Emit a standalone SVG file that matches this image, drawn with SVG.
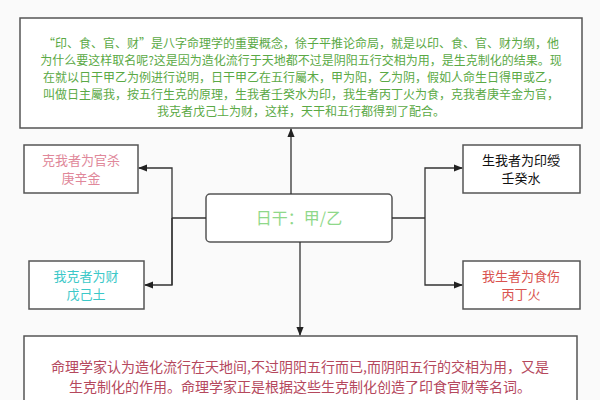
<svg xmlns="http://www.w3.org/2000/svg" width="600" height="400" viewBox="0 0 600 400">
<defs>
<style>
.box{fill:#fff;stroke:#555;stroke-width:1.5}
text{font-family:"Noto Sans CJK SC","Liberation Sans",sans-serif;text-anchor:middle}
.t{font-size:12px;fill:#5aa945}
.s{font-size:13px}
.ln{fill:none;stroke:#333;stroke-width:1.3}
</style>
<marker id="a" viewBox="0 0 10 10" refX="9" refY="5" markerWidth="7" markerHeight="7" orient="auto"><path d="M0,1 L10,5 L0,9 z" fill="#222"/></marker>
</defs>
<rect width="600" height="400" fill="#fafafa"/>
<g id="top">
<rect class="box" x="20" y="18" width="562" height="110"/>
<text class="t" x="301" y="48">“印、食、官、财”是八字命理学的重要概念，徐子平推论命局，就是以印、食、官、财为纲，他</text>
<text class="t" x="301" y="65">为什么要这样取名呢?这是因为造化流行于天地都不过是阴阳五行交相为用，是生克制化的结果。现</text>
<text class="t" x="301" y="82">在就以日干甲乙为例进行说明，日干甲乙在五行屬木，甲为阳，乙为阴，假如人命生日得甲或乙，</text>
<text class="t" x="301" y="99">叫做日主屬我，按五行生克的原理，生我者壬癸水为印，我生者丙丁火为食，克我者庚辛金为官，</text>
<text class="t" x="301" y="116">我克者戊己土为财，这样，天干和五行都得到了配合。</text>
</g>
<g id="center">
<rect class="box" x="206" y="194" width="186" height="48" rx="4"/>
<text x="299" y="224" font-size="16" fill="#8fd88a">日干：甲/乙</text>
</g>
<g id="lt">
<rect class="box" x="24" y="145" width="114" height="48"/>
<text class="s" x="81" y="165" fill="#e0889a">克我者为官杀</text>
<text class="s" x="81" y="183" fill="#e0889a">庚辛金</text>
</g>
<g id="lb">
<rect class="box" x="29" y="261" width="115" height="48"/>
<text class="s" x="86" y="281" fill="#3cc8c8">我克者为财</text>
<text class="s" x="86" y="299" fill="#3cc8c8">戊己土</text>
</g>
<g id="rt">
<rect class="box" x="463" y="145" width="117" height="48"/>
<text class="s" x="521" y="165" fill="#111">生我者为印绶</text>
<text class="s" x="521" y="183" fill="#111">壬癸水</text>
</g>
<g id="rb">
<rect class="box" x="463" y="261" width="117" height="48"/>
<text class="s" x="521" y="281" fill="#d9534f">我生者为食伤</text>
<text class="s" x="521" y="299" fill="#d9534f">丙丁火</text>
</g>
<g id="bottom">
<rect class="box" x="24" y="336" width="553" height="80"/>
<text x="300" y="372" font-size="14" fill="#b5485d">命理学家认为造化流行在天地间,不过阴阳五行而已,而阴阳五行的交相为用，又是</text>
<text x="300" y="392" font-size="14" fill="#b5485d">生克制化的作用。命理学家正是根据这些生克制化创造了印食官财等名词。</text>
</g>
<g id="connectors">
<path class="ln" d="M206,218 H172"/>
<path class="ln" d="M172,285 V168 H139" marker-end="url(#a)"/>
<path class="ln" d="M172,218 V285 H145" marker-end="url(#a)"/>
<path class="ln" d="M392,218 H425"/>
<path class="ln" d="M425,218 V168 H462" marker-end="url(#a)"/>
<path class="ln" d="M425,218 V285 H462" marker-end="url(#a)"/>
<path class="ln" d="M291,194 V129" marker-end="url(#a)"/>
<path class="ln" d="M300,242 V335" marker-end="url(#a)"/>
</g>
</svg>
